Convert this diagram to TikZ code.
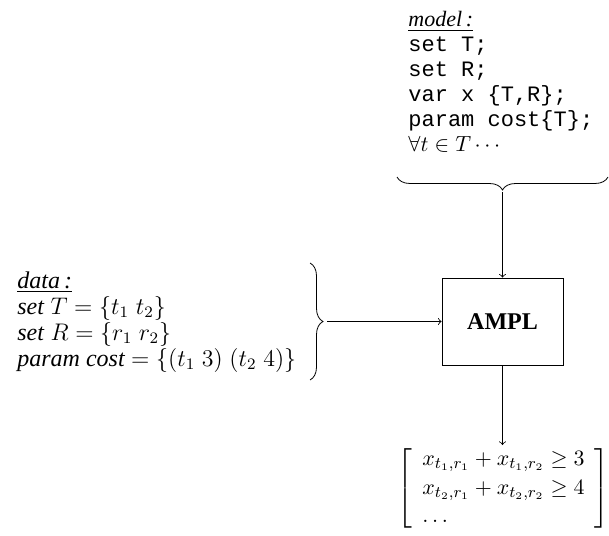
\documentclass[tikz,border=0pt]{standalone}
\usepackage{amsmath,amssymb}
\usepackage{fontspec}
\setmainfont{Liberation Serif}
\setmonofont{Liberation Mono}
\usepackage{tikz}
\usetikzlibrary{positioning, decorations.pathreplacing}
\usetikzlibrary{arrows}

\tikzset{
  listing/.style={anchor=north west, align=left, inner sep=0pt},
  bracebig/.style={decorate, decoration={brace, amplitude=6.5pt}},
}

\begin{document}
\begin{tikzpicture}[x=0.5pt, y=-0.5pt, thin, >=to]
        \useasboundingbox (0,0) rectangle (609,535);
        % Define nodes
        \node[listing, font=\fontsize{11}{12.5}\selectfont] (model) at (408,11)
            {\underline{\textit{model\,:}}\\
            \texttt{set T;}\\
            \texttt{set R;}\\
            \texttt{var x \{T,R\};}\\
            \texttt{param cost\{T\};}\\
            $\forall t \in T \cdots$};
        \node[listing, font=\fontsize{12}{13}\selectfont] (data) at (17,271)
            {\underline{\textit{data\,:}}\\
            \textit{set} $T=\{t_1\;t_2\}$\\
            \textit{set} $R=\{r_1\;r_2\}$\\
            \textit{param cost} $=\{(t_1\;3)\;(t_2\;4)\}$};
        \node[draw, minimum width=60.5pt, minimum height=43.5pt,
            font=\fontsize{12}{14}\bfseries] (ampl) at (502.5,321.5) {AMPL};
        \node[anchor=north, inner sep=0pt, font=\fontsize{11}{13}\selectfont]
            (res) at (503.5,445) {\renewcommand{\arraystretch}{1.1}%
            $\left[\hspace{5pt}\begin{array}{@{}l@{}}
            x_{t_1,r_1}+x_{t_1,r_2}\geq 3\\
            x_{t_2,r_1}+x_{t_2,r_2}\geq 4\\
            \ldots
            \end{array}\hspace{5pt}\right]$};

        % Draw braces
        \draw[bracebig, decoration={mirror}] (397,177) -- (608,177);
        \draw[bracebig] (310,263) -- (310,380);
        \coordinate (mtip) at (502.5,192);
        \coordinate (dtip) at (327,321.5);

        % Draw edges
        \draw[->] (mtip) -- (ampl);
        \draw[->] (dtip) -- (ampl);
        \draw[->] (ampl) -- (ampl.south |- res.north);
    \end{tikzpicture}
\end{document}
